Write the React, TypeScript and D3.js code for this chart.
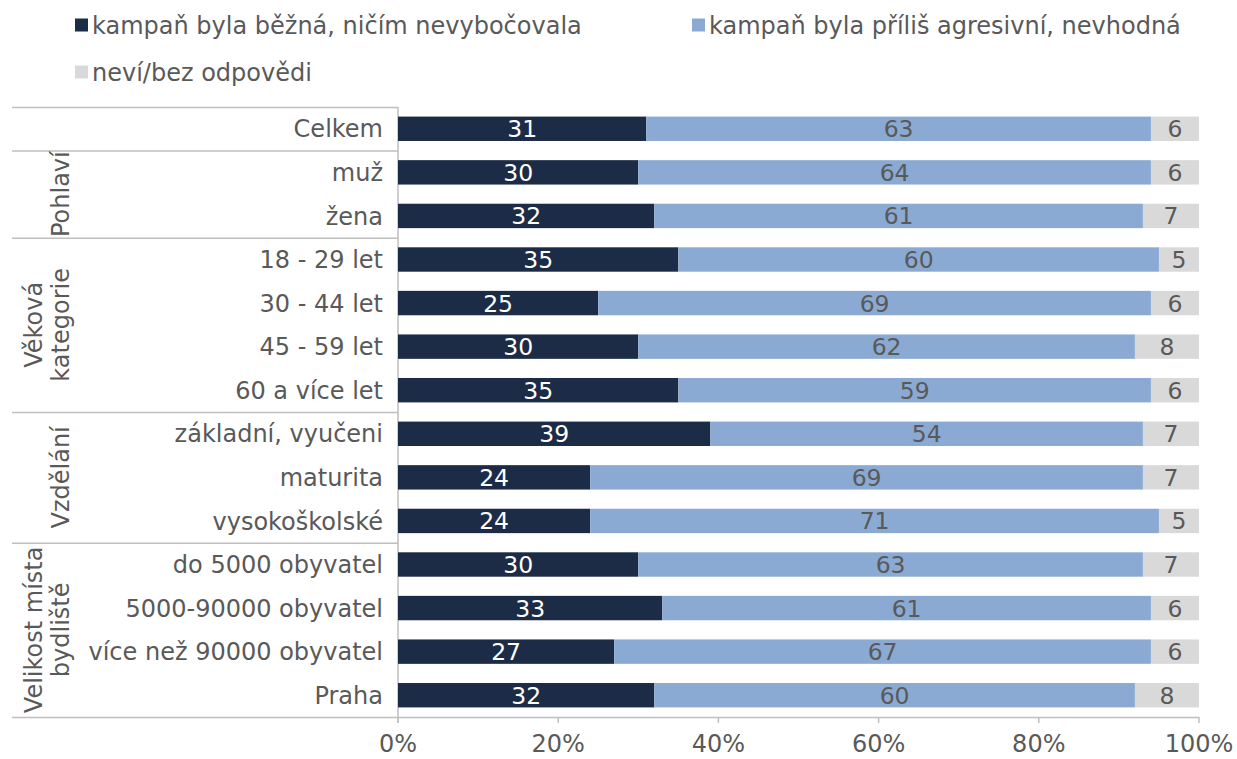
import React from "react";
import * as d3 from "d3";

const categories = [
  "Celkem", "muž", "žena", "18 - 29 let", "30 - 44 let", "45 - 59 let", "60 a více let",
  "základní, vyučeni", "maturita", "vysokoškolské",
  "do 5000 obyvatel", "5000-90000 obyvatel", "více než 90000 obyvatel", "Praha",
];
const bezna = [31, 30, 32, 35, 25, 30, 35, 39, 24, 24, 30, 33, 27, 32];
const agresivni = [63, 64, 61, 60, 69, 62, 59, 54, 69, 71, 63, 61, 67, 60];
const nevi = [6, 6, 7, 5, 6, 8, 6, 7, 7, 5, 7, 6, 6, 8];
const seriesNames = [
  "kampaň byla běžná, ničím nevybočovala",
  "kampaň byla příliš agresivní, nevhodná",
  "neví/bez odpovědi",
];
const groups = [
  { lines: [] as string[], start: 0, end: 0 },
  { lines: ["Pohlaví"], start: 1, end: 2 },
  { lines: ["Věková", "kategorie"], start: 3, end: 6 },
  { lines: ["Vzdělání"], start: 7, end: 9 },
  { lines: ["Velikost místa", "bydliště"], start: 10, end: 13 },
];
const ticks = [0, 20, 40, 60, 80, 100];

const colors = ["#1c2b46", "#8aaad3", "#d9d9d9"];
const labelColors = ["#ffffff", "#595959", "#595959"];
const FONT = "'DejaVu Sans', Verdana, sans-serif";
const TEXT = "#595959";
const GRID = "#bfbfbf";

export default function App() {
  const W = 1237, H = 759;
  const x0 = 398, x1 = 1199, yTop = 107, yBot = 717, leftX = 12;
  const x = d3.scaleLinear().domain([0, 100]).range([x0, x1]);
  const y = d3.scaleBand<string>().domain(categories).range([yTop, yBot]).paddingInner(0.44).paddingOuter(0.22);
  const bandTop = (i: number) => yTop + i * ((yBot - yTop) / categories.length);

  const series = [bezna, agresivni, nevi];
  const stacked = categories.map((c, i) => {
    let acc = 0;
    return series.map((s, k) => {
      const a = acc;
      acc += s[i];
      return { k, v: s[i], a, b: acc };
    });
  });

  const sepIdx = [0, 1, 3, 7, 10, 14];

  return (
    <svg width={W} height={H} style={{ display: "block", position: "absolute", left: 0, top: 0 }} fontFamily={FONT}>
      <rect width={W} height={H} fill="#fff" />
      {/* legend */}
      {[
        { i: 0, sx: 75, tx: 92, cy: 25 },
        { i: 1, sx: 692, tx: 709, cy: 25 },
        { i: 2, sx: 75, tx: 92, cy: 72 },
      ].map((l) => (
        <g key={l.i}>
          <rect x={l.sx} y={l.cy - 6.5} width={13} height={13} fill={colors[l.i]} />
          <text x={l.tx} y={l.cy} dy="0.36em" fontSize={24} fill={TEXT}>{seriesNames[l.i]}</text>
        </g>
      ))}

      {/* separators */}
      {sepIdx.map((s) => (
        <line key={s} x1={leftX} x2={s === 14 ? x1 : x0} y1={bandTop(s) + 0.5} y2={bandTop(s) + 0.5} stroke={GRID} strokeWidth={1.5} />
      ))}
      <line x1={x0} x2={x0} y1={yTop} y2={yBot + 6} stroke={GRID} strokeWidth={1.5} />
      {ticks.map((t) => (
        <line key={t} x1={x(t)} x2={x(t)} y1={yBot} y2={yBot + 6} stroke={GRID} strokeWidth={1.5} />
      ))}

      {/* bars */}
      {categories.map((c, i) => (
        <g key={c}>
          {stacked[i].map((d) => (
            <g key={d.k}>
              <rect x={x(d.a)} y={y(c)!} width={x(d.b) - x(d.a)} height={y.bandwidth()} fill={colors[d.k]} />
              <text x={(x(d.a) + x(d.b)) / 2} y={y(c)! + y.bandwidth() / 2} dy="0.36em" textAnchor="middle" fontSize={23.5} fill={labelColors[d.k]}>{d.v}</text>
            </g>
          ))}
          <text x={383} y={y(c)! + y.bandwidth() / 2} dy="0.36em" textAnchor="end" fontSize={24} fill={TEXT}>{c}</text>
        </g>
      ))}

      {/* group labels */}
      {groups.filter((g) => g.lines.length).map((g) => {
        const cy = (bandTop(g.start) + bandTop(g.end + 1)) / 2;
        const n = g.lines.length;
        return (
          <g key={g.start}>
            {g.lines.map((ln, j) => {
              const cx = 60 - (n - 1 - j) * 27;
              return (
                <text key={j} transform={`translate(${cx},${cy}) rotate(-90)`} dy="0.36em" textAnchor="middle" fontSize={24} fill={TEXT}>{ln}</text>
              );
            })}
          </g>
        );
      })}

      {/* x tick labels */}
      {ticks.map((t) => (
        <text key={t} x={x(t)} y={743} dy="0.36em" textAnchor="middle" fontSize={24} fill={TEXT}>{t}%</text>
      ))}
    </svg>
  );
}
